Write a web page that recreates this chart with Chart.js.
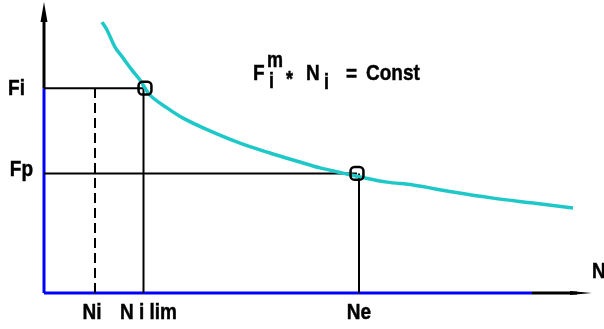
<!DOCTYPE html>
<html>
<head>
<meta charset="utf-8">
<script src="https://cdn.jsdelivr.net/npm/chart.js@4.4.0/dist/chart.umd.min.js"></script>
<style>
  html, body { margin: 0; padding: 0; background: #fff; }
  #wrap { width: 604px; height: 329px; }
</style>
</head>
<body>
<div id="wrap"><canvas id="fatigue"></canvas></div>
<script>
// curve F^m * N = Const
const curveN = [11.6, 12.6, 14.2, 15.8, 17.6, 19.2, 21.2, 24.6, 27.8, 33.2, 39.2, 45.2, 51.2, 55.2, 59.8, 63.2, 68.6, 73.8, 81.8, 89.8, 97.8, 105.8];
const curveF = [93.1, 90.4, 84.5, 80.8, 76.6, 73.2, 68.0, 63.6, 60.1, 55.7, 51.5, 48.1, 45.0, 43.0, 41.2, 39.9, 38.1, 37.1, 34.7, 32.6, 30.9, 29.2];

// reference levels
const Fi = 70.4;
const Fp = 41.1;
const Ni = 10.2;
const NiLim = 19.9;
const Ne = 63.0;
const axisBlueEndX = 97.6;
const axisEndX = 109.6;
const axisEndY = 100;

// highlighted points on the curve
const markN = [20.2, 62.6];
const markF = [70.4, 41.1];

// labels
const xTickLabels = ["Ni", "N i lim", "Ne"];
const xTickValues = [Ni, NiLim, Ne];
const yTickLabels = ["Fi", "Fp"];
const yTickValues = [Fi, Fp];

const seg = (x1, y1, x2, y2) => [{ x: x1, y: y1 }, { x: x2, y: y2 }];
const lineDs = (data, color, width, dash) => ({
  data: data,
  showLine: true,
  borderColor: color,
  borderWidth: width,
  borderDash: dash || [],
  pointRadius: 0,
  fill: false,
  order: 2,
  clip: false,
});

function drawText(ctx, txt, x, y, align, size) {
  ctx.save();
  ctx.font = 'bold ' + (size || 19) + 'px "Liberation Sans", Arial, sans-serif';
  ctx.textAlign = align || "left";
  ctx.textBaseline = "alphabetic";
  ctx.translate(x, y);
  ctx.scale(1, 1.2);
  ctx.fillStyle = "#000";
  ctx.fillText(txt, 0, 0);
  ctx.strokeStyle = "#000";
  ctx.lineWidth = 0.4;
  ctx.strokeText(txt, 0, 0);
  ctx.restore();
}

const annotations = {
  id: "annotations",
  afterDatasetsDraw(chart) {
    const ctx = chart.ctx;
    const xs = chart.scales.x, ys = chart.scales.y;
    const x0 = xs.getPixelForValue(0), y0 = ys.getPixelForValue(0);

    // y axis arrow head
    const ty = ys.getPixelForValue(axisEndY);
    ctx.fillStyle = "#000";
    ctx.beginPath();
    ctx.moveTo(x0, ty);
    ctx.lineTo(x0 - 3.5, ty + 20);
    ctx.lineTo(x0 + 3.5, ty + 20);
    ctx.closePath();
    ctx.fill();

    // x axis arrow head
    const tx = xs.getPixelForValue(axisEndX);
    ctx.beginPath();
    ctx.moveTo(tx, y0);
    ctx.lineTo(tx - 22, y0 - 2);
    ctx.lineTo(tx - 22, y0 + 2);
    ctx.closePath();
    ctx.fill();

    // y labels
    yTickLabels.forEach((t, i) => {
      const py = ys.getPixelForValue(yTickValues[i]);
      drawText(ctx, t, i === 0 ? 25 : 33, py + (i === 0 ? 7 : 3), "right");
    });
    // x labels
    xTickLabels.forEach((t, i) => {
      const px = xs.getPixelForValue(xTickValues[i]);
      const off = i === 1 ? 5 : (i === 0 ? -3 : 0);
      drawText(ctx, t, px + off, y0 + 26, "center");
    });
    drawText(ctx, "N", tx, y0 - 15, "left");

    // formula
    drawText(ctx, "F", 253, 80, "left");
    drawText(ctx, "m", 267, 67, "left", 18);
    drawText(ctx, "i", 269, 88, "left", 18);
    drawText(ctx, "*", 286, 86, "left", 18);
    drawText(ctx, "N", 306, 80, "left");
    drawText(ctx, "i", 324, 89, "left", 18);
    drawText(ctx, "=", 346, 81, "left");
    drawText(ctx, "Const", 366, 80, "left");
  },
};

new Chart(document.getElementById("fatigue"), {
  type: "scatter",
  data: {
    datasets: [
      {
        data: markN.map((n, i) => ({ x: n, y: markF[i] })),
        pointStyle: "rectRounded",
        pointRadius: 7.5,
        borderColor: "#000",
        borderWidth: 2.5,
        backgroundColor: "rgba(0,0,0,0)",
        order: 0,
        clip: false,
      },
      {
        data: curveN.map((n, i) => ({ x: n, y: curveF[i] })),
        showLine: true,
        borderColor: "#1ec8c8",
        borderWidth: 3.5,
        pointRadius: 0,
        tension: 0.35,
        order: 1,
        clip: false,
      },
      lineDs(seg(0, Fi, markN[0], Fi), "#000", 2),
      lineDs(seg(NiLim, 0, NiLim, Fi), "#000", 2),
      lineDs(seg(Ni, 0, Ni, Fi), "#000", 2, [10, 5]),
      lineDs(seg(0, Fp, markN[1], Fp), "#000", 2),
      lineDs(seg(Ne, 0, Ne, Fp), "#000", 2),
      lineDs(seg(0, 0, 0, Fi), "#0000ff", 3),
      lineDs(seg(0, Fi, 0, axisEndY - 6), "#000", 3),
      lineDs(seg(0, 0, axisBlueEndX, 0), "#0000ff", 3),
      lineDs(seg(axisBlueEndX, 0, axisEndX - 3, 0), "#000", 3),
    ],
  },
  options: {
    responsive: true,
    maintainAspectRatio: false,
    animation: false,
    layout: { autoPadding: false, padding: { left: 44, right: 10, top: 2, bottom: 36 } },
    plugins: { legend: { display: false }, tooltip: { enabled: false } },
    scales: {
      x: { type: "linear", min: 0, max: 110, display: false },
      y: { type: "linear", min: 0, max: 100, display: false },
    },
  },
  plugins: [annotations],
});
</script>
</body>
</html>
